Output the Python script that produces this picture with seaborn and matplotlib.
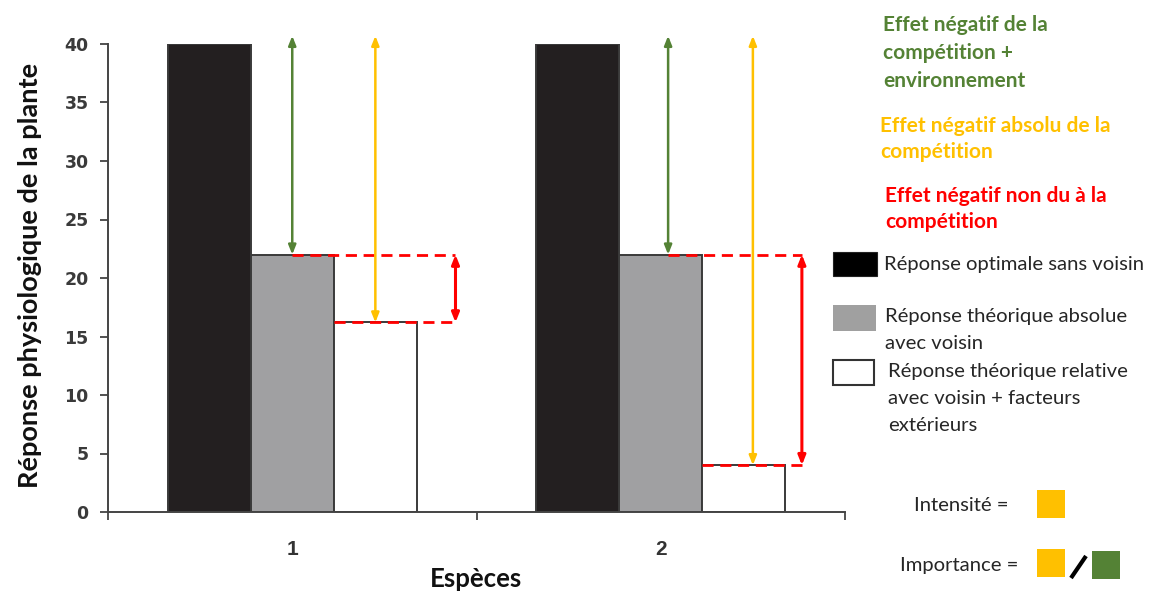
import matplotlib
matplotlib.use("Agg")
import matplotlib.pyplot as plt
import seaborn as sns
import pandas as pd
from matplotlib.patches import Rectangle

# ---------------- data ----------------
especes = ["1", "2"]
types = ["optimale", "absolue", "relative"]
optimale = [40, 40]
absolue = [22, 22]
relative = [16.2, 4.0]
y_ticks = [0, 5, 10, 15, 20, 25, 30, 35, 40]

legend_labels = ["Réponse optimale sans voisin",
                 "Réponse théorique absolue\navec voisin",
                 "Réponse théorique relative\navec voisin + facteurs\nextérieurs"]
effet_labels = ["Effet négatif de la\ncompétition +\nenvironnement",
                "Effet négatif absolu de la\ncompétition",
                "Effet négatif non du à la\ncompétition"]

# arrow horizontal offsets (relative to species centre), arrow top overshoot
green_off = [0.0, 0.02]
yellow_off = [0.2255, 0.25]
red_off = [0.443, 0.383]
arrow_top = 40.7

BAR_COLORS = ["#231F20", "#A0A0A2", "#FFFFFF"]
GREEN, YELLOW, RED = "#548235", "#FFC000", "#FF0000"

# ---------------- figure ----------------
sns.set_style("ticks")
plt.rcParams['font.family'] = ['Lato', 'DejaVu Sans']

W, H = 1164, 597
fig = plt.figure(figsize=(W / 100, H / 100), dpi=100)
ax = fig.add_axes([108 / W, 85 / H, (845 - 108) / W, (512 - 44) / H])

df = pd.DataFrame({
    "Espèces": especes * 3,
    "type": [t for t in types for _ in especes],
    "val": optimale + absolue + relative,
})
sns.barplot(data=df, x="Espèces", y="val", hue="type", order=especes,
            hue_order=types, palette=dict(zip(types, BAR_COLORS)),
            width=0.675, saturation=1, edgecolor="#3a3a3a", linewidth=1.4,
            errorbar=None, legend=False, ax=ax)

bw = 0.675 / 3
ax.set_xlim(-0.5, 1.5)
ax.set_ylim(0, 40)
ax.set_yticks(y_ticks)
ax.set_xticks([0, 1])
ax.set_xticklabels(especes)
ax.set_xticks([-0.5, 0.5, 1.5], minor=True)
ax.tick_params(axis="x", which="major", length=0, pad=20)
ax.tick_params(axis="x", which="minor", length=6, width=1.3, color="#444444")
ax.tick_params(axis="y", length=6, width=1.3, color="#444444", pad=8)
for lab in ax.get_xticklabels():
    lab.set_fontfamily(["Liberation Sans", "DejaVu Sans"])
    lab.set_fontweight("bold")
    lab.set_fontsize(15)
    lab.set_color("#333333")
for lab in ax.get_yticklabels():
    lab.set_fontfamily(["DejaVu Sans"])
    lab.set_fontweight("bold")
    lab.set_fontsize(12.5)
    lab.set_color("#3a3a3a")
for s in ["top", "right"]:
    ax.spines[s].set_visible(False)
for s in ["left", "bottom"]:
    ax.spines[s].set_color("#444444")
    ax.spines[s].set_linewidth(1.4)

ax.set_xlabel("Espèces", fontsize=18.5, fontweight="bold", color="#111111")
ax.set_ylabel("Réponse physiologique de la plante", fontsize=19.5,
              fontweight="bold", color="#111111")
ax.xaxis.set_label_coords(0.5, -0.118)
ax.yaxis.set_label_coords(-0.09, 0.506)


def darrow(x, y0, y1, color, lw=1.8):
    ax.annotate("", xy=(x, y1), xytext=(x, y0),
                arrowprops=dict(arrowstyle="<|-|>,head_length=0.55,head_width=0.22",
                                color=color, lw=lw, shrinkA=0, shrinkB=0),
                annotation_clip=False, zorder=6)


for i in range(len(especes)):
    # dashed red guide lines
    ax.plot([i + green_off[i], i + red_off[i]], [absolue[i], absolue[i]],
            color=RED, lw=2, ls=(0, (4, 2.4)), clip_on=False, zorder=5)
    ax.plot([i + bw / 2, i + red_off[i]], [relative[i], relative[i]],
            color=RED, lw=2, ls=(0, (4, 2.4)), clip_on=False, zorder=5)
    darrow(i + green_off[i], arrow_top, absolue[i], GREEN)
    darrow(i + yellow_off[i], arrow_top, relative[i], YELLOW)
    darrow(i + red_off[i], absolue[i], relative[i], RED, lw=2.2)

# ---------------- right-hand annotations (pixel overlay) ----------------
ov = fig.add_axes([0, 0, 1, 1], zorder=10)
ov.set_xlim(0, W)
ov.set_ylim(H, 0)
ov.axis("off")
ov.patch.set_alpha(0)


def lines(x, y0, text, dy, **kw):
    for k, line in enumerate(text.split("\n")):
        ov.text(x, y0 + k * dy, line, va="baseline", ha="left", **kw)


fs_head, fs = 15, 14.6
lines(883, 31, effet_labels[0], 28, color=GREEN, fontsize=fs_head, fontweight="bold")
lines(880, 132, effet_labels[1], 26, color=YELLOW, fontsize=fs_head, fontweight="bold")
lines(885, 202, effet_labels[2], 26, color=RED, fontsize=fs_head, fontweight="bold")

TXT = "#262626"
ov.add_patch(Rectangle((833, 252), 44, 24, facecolor="#000000", edgecolor="#222222", lw=0.8))
lines(884, 270, legend_labels[0], 27, color=TXT, fontsize=fs)
ov.add_patch(Rectangle((833, 305), 43, 26, facecolor="#A0A0A0", edgecolor="none"))
lines(885, 322, legend_labels[1], 27, color=TXT, fontsize=fs)
ov.add_patch(Rectangle((833, 360), 41, 25, facecolor="white", edgecolor="#333333", lw=1.5))
lines(888, 377, legend_labels[2], 27, color=TXT, fontsize=fs)

ov.text(1008, 511, "Intensité =", color=TXT, fontsize=fs, va="baseline", ha="right")
ov.add_patch(Rectangle((1037, 490), 28, 28, facecolor=YELLOW, edgecolor="none"))
ov.text(1018, 571, "Importance =", color=TXT, fontsize=fs, va="baseline", ha="right")
ov.add_patch(Rectangle((1037, 549), 28, 28, facecolor=YELLOW, edgecolor="none"))
ov.plot([1071, 1086], [578, 556], color="black", lw=3, solid_capstyle="butt")
ov.add_patch(Rectangle((1092, 551), 28, 28, facecolor=GREEN, edgecolor="none"))

fig.savefig("out.png", dpi=100, facecolor="white")
